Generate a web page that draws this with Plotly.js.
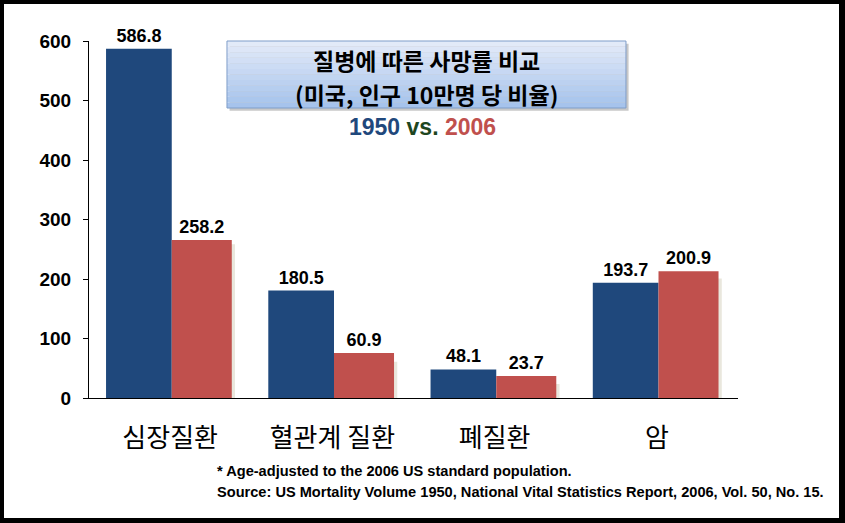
<!DOCTYPE html>
<html>
<head>
<meta charset="utf-8">
<script src="https://cdn.plot.ly/plotly-3.0.1.min.js"></script>
<style>
  html, body { margin: 0; padding: 0; background: #fff; }
  #frame { width: 845px; height: 523px; box-sizing: border-box; border: 4px solid #000; border-right-width: 6px; border-bottom-width: 5px; }
  #plotArea { width: 835px; height: 514px; }
</style>
</head>
<body>
<div id="frame"><div id="plotArea"></div></div>
<script>
// categories and values
var diseases = ["심장질환", "혈관계 질환", "폐질환", "암"];
var deaths1950 = [586.8, 180.5, 48.1, 193.7];
var deaths2006 = [258.2, 60.9, 23.7, 200.9];
// red bars in the picture stand a bit taller than their labels
var drawn2006 = [265.5, 75.5, 37, 213];
var yTicks = [0, 100, 200, 300, 400, 500, 600];

var blue = "#1F487C", red = "#C0504D";

var shadow = {
    x: diseases, y: deaths2006, type: "bar",
    offset: 0.03, width: 0.37,
    marker: {color: "#E9E7DD"},
    hoverinfo: "skip"
};
var bars1950 = {
    x: diseases, y: deaths1950, type: "bar",
    offset: -0.395, width: 0.405,
    marker: {color: blue},
    text: deaths1950.map(function(v) { return v.toFixed(1); }),
    textposition: "outside",
    textfont: {family: "Liberation Sans, Arial", size: 18, color: "#000", weight: "bold"},
    cliponaxis: false
};
var bars2006 = {
    x: diseases, y: drawn2006, type: "bar",
    offset: 0.01, width: 0.37,
    marker: {color: red},
    text: deaths2006.map(function(v) { return v.toFixed(1); }),
    textposition: "outside",
    textfont: {family: "Liberation Sans, Arial", size: 18, color: "#000", weight: "bold"},
    cliponaxis: false
};

// title box drawn as bands to fake the gradient
var shapes = [];
var boxX0 = 0.2126, boxX1 = 0.8274, boxY0 = 0.8123, boxY1 = 1.0;
shapes.push({type: "rect", xref: "paper", yref: "paper", x0: boxX0 + 0.004, x1: boxX1 + 0.004,
    y0: boxY0 - 0.008, y1: boxY1 - 0.008, fillcolor: "#C8C8C8", line: {width: 0}});
var nBands = 12;
for (var i = 0; i < nBands; i++) {
    var t = i / (nBands - 1);
    var r = Math.round(226 - t * (226 - 166));
    var g = Math.round(234 - t * (234 - 195));
    var b = Math.round(248 - t * (248 - 236));
    shapes.push({type: "rect", xref: "paper", yref: "paper", x0: boxX0, x1: boxX1,
        y1: boxY1 - (boxY1 - boxY0) * i / nBands,
        y0: boxY1 - (boxY1 - boxY0) * (i + 1) / nBands,
        fillcolor: "rgb(" + r + "," + g + "," + b + ")", line: {width: 0}});
}
shapes.push({type: "rect", xref: "paper", yref: "paper", x0: boxX0, x1: boxX1, y0: boxY0, y1: boxY1,
    fillcolor: "rgba(0,0,0,0)", line: {color: "#7F9DC9", width: 1}});

var korean = "Noto Sans CJK KR";
var layout = {
    width: 835, height: 514,
    margin: {l: 85, r: 101, t: 37, b: 120},
    paper_bgcolor: "#fff", plot_bgcolor: "#fff",
    barmode: "overlay",
    showlegend: false,
    hovermode: false,
    xaxis: {
        range: [-0.5, 3.5],
        showline: true, linecolor: "#000", linewidth: 1,
        ticks: "", showgrid: false, zeroline: false,
        tickfont: {family: korean, size: 26, color: "#000"},
        ticklabelstandoff: 17
    },
    yaxis: {
        range: [0, 600],
        tickvals: yTicks,
        showline: true, linecolor: "#000", linewidth: 1,
        ticks: "outside", ticklen: 5, tickcolor: "#000",
        showgrid: false, zeroline: false,
        tickfont: {family: "Liberation Sans, Arial", size: 19, color: "#000", weight: "bold"},
        ticklabelstandoff: 8
    },
    shapes: shapes,
    annotations: [
        {xref: "paper", yref: "paper", x: 0.5208, y: 0.947, xanchor: "center", yanchor: "middle",
         text: "질병에 따른 사망률 비교", showarrow: false,
         font: {family: korean, size: 23, color: "#000", weight: "bold"}},
        {xref: "paper", yref: "paper", x: 0.5208, y: 0.8515, xanchor: "center", yanchor: "middle",
         text: "(미국, 인구 10만명 당 비율)", showarrow: false,
         font: {family: korean, size: 23, color: "#000", weight: "bold"}},
        {xref: "paper", yref: "paper", x: 0.5146, y: 0.759, xanchor: "center", yanchor: "middle",
         text: "<span style='color:" + blue + "'>1950</span> <span style='color:#1E4620'>vs.</span> <span style='color:" + red + "'>2006</span>",
         showarrow: false,
         font: {family: "Liberation Sans, Arial", size: 23, weight: "bold"}},
        {xref: "paper", yref: "paper", x: 0.194, y: -0.2045, xanchor: "left", yanchor: "middle",
         text: "* Age-adjusted to the 2006 US standard population.", showarrow: false,
         font: {family: "Liberation Sans Narrow, Arial Narrow, Liberation Sans", size: 14.6, color: "#000", weight: "bold"}},
        {xref: "paper", yref: "paper", x: 0.194, y: -0.263, xanchor: "left", yanchor: "middle",
         text: "Source: US Mortality Volume 1950, National Vital Statistics Report, 2006, Vol. 50, No. 15.", showarrow: false,
         font: {family: "Liberation Sans Narrow, Arial Narrow, Liberation Sans", size: 14.6, color: "#000", weight: "bold"}}
    ]
};

Plotly.newPlot("plotArea", [shadow, bars1950, bars2006], layout, {displayModeBar: false, staticPlot: true});
</script>
</body>
</html>
